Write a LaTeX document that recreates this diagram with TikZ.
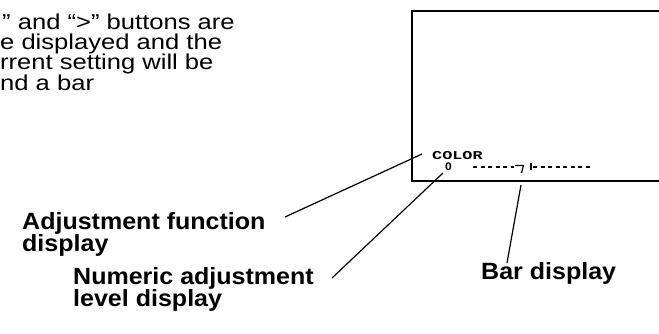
\documentclass[tikz,border=0pt]{standalone}
\usepackage{fontspec}
\setmainfont[FakeStretch=1.19]{Liberation Sans}
\newfontfamily\lblfont[FakeStretch=1.065]{Liberation Sans}
\newfontfamily\osdfont[FakeStretch=1.4]{Liberation Mono}
\newfontfamily\osdnum[FakeStretch=1.1]{Liberation Sans}
\begin{document}
\begin{tikzpicture}[x=1pt,y=-1pt,
  body/.style={font=\fontsize{21.5}{20}\selectfont, anchor=base west, inner sep=0pt, text height=14pt, text depth=3pt},
  lbl/.style={font=\lblfont\bfseries\fontsize{23.5}{20}\selectfont, anchor=base west, inner sep=0pt, text height=15pt, text depth=3pt},
  osd/.style={font=\osdfont\bfseries\fontsize{12}{12}\selectfont, anchor=base west, inner sep=0pt},
  osdn/.style={font=\osdnum\bfseries\fontsize{11}{11}\selectfont, anchor=base west, inner sep=0pt},
  leader/.style={line width=1.2pt},
  frame/.style={line width=1.8pt},
  bar/.style={line width=1.2pt, dash pattern=on 4pt off 3.5pt}]
\useasboundingbox (0,0) rectangle (659,333);
\clip (0,0) rectangle (659,333);
% explanatory text (clipped at left)
\node[body] (t1) at (2,29.5) {" and “>" buttons are};
\node[body] (t2) at (0,49.7) {e displayed and the};
\node[body] (t3) at (0,69.9) {rrent setting will be};
\node[body] (t4) at (0,90) {nd a bar};
% screen frame
\draw[frame] (700,11) -- (412,11) -- (412,181) -- (700,181);
% on-screen display
\node[osd] (color) at (432,159) {COLOR};
\node[osdn] (zero) at (445,170.5) {0};
\draw[bar] (473,167) -- (514,167);
\draw[line width=1.2pt] (515,165.5) -- (523.5,165.5) -- (521.5,173);
\draw[line width=1.2pt] (531,163) -- (531,170);
\draw[bar] (533,167) -- (590,167);
% labels
\node[lbl] (adj1) at (22,229) {Adjustment function};
\node[lbl] (adj2) at (22,251) {display};
\node[lbl] (num1) at (73,284) {Numeric adjustment};
\node[lbl] (num2) at (73,306) {level display};
\node[lbl] (barl) at (481,279) {Bar display};
% leader lines
\coordinate (adjS) at (285,217);
\coordinate (adjE) at (422,154);
\coordinate (numS) at (332,278);
\coordinate (numE) at (443,173);
\coordinate (barS) at (507,263);
\coordinate (barE) at (521,185);
\draw[leader] (adjS) -- (adjE);
\draw[leader] (numS) -- (numE);
\draw[leader] (barS) -- (barE);
\end{tikzpicture}
\end{document}
